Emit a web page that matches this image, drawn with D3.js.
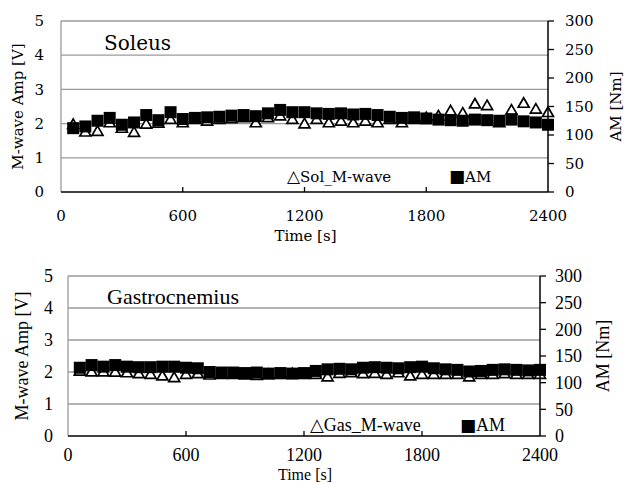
<!DOCTYPE html>
<html>
<head>
<meta charset="utf-8">
<script src="https://cdn.jsdelivr.net/npm/d3@7"></script>
<style>
  body { margin: 0; background: #fff; }
  svg { display: block; }
</style>
</head>
<body>
<div id="chart"></div>
<script>
// sample times [s], one point per minute
const times = [60,120,180,240,300,360,420,480,540,600,660,720,780,840,900,960,1020,1080,1140,1200,
  1260,1320,1380,1440,1500,1560,1620,1680,1740,1800,1860,1920,1980,2040,2100,2160,2220,2280,2340,2400];

// Soleus
const solMwave = [1.95,1.73,1.75,2.0,1.84,1.72,1.96,1.99,2.1,2.0,2.1,2.05,2.1,2.12,2.15,2.0,2.15,2.2,2.1,1.97,
  2.1,2.0,2.05,2.0,2.05,2.0,2.1,2.0,2.1,2.15,2.2,2.35,2.28,2.55,2.5,2.0,2.37,2.57,2.4,2.3];
const solAM = [112,115,125,130,118,122,135,126,140,128,130,131,132,134,135,133,138,144,140,140,
  138,137,138,136,137,135,132,130,131,129,127,126,125,127,126,125,127,124,122,118];

// Gastrocnemius
const gasMwave = [2.0,1.98,1.98,1.97,1.95,1.92,1.9,1.85,1.8,1.9,1.92,1.88,1.9,1.9,1.88,1.87,1.9,1.9,1.92,1.9,
  1.9,1.82,1.93,1.95,1.92,1.93,1.9,1.95,1.85,1.9,1.9,1.9,1.9,1.82,1.9,1.9,1.92,1.9,1.9,1.9];
const gasAM = [128,133,130,133,130,129,129,130,130,128,127,120,119,119,118,119,117,118,117,118,
  122,125,126,125,128,129,128,127,129,130,127,125,124,121,122,124,125,124,123,124];

const xTicks = [0,600,1200,1800,2400];
const yLeftTicks = [0,1,2,3,4,5];
const yRightTicks = [0,50,100,150,200,250,300];

const W = 627, H = 484;
const svg = d3.select("#chart").append("svg").attr("width", W).attr("height", H);

function drawPanel(p) {
  const g = svg.append("g").style("font-family", p.font).style("fill", "#000");
  const x = d3.scaleLinear().domain([0, 2400]).range([p.left, p.right]);
  const yL = d3.scaleLinear().domain([0, 5]).range([p.bottom, p.top]);
  const yR = d3.scaleLinear().domain([0, 300]).range([p.bottom, p.top]);

  // gridlines
  g.selectAll(".grid").data(yLeftTicks.slice(1)).enter().append("line")
    .attr("x1", p.left).attr("x2", p.right)
    .attr("y1", d => yL(d)).attr("y2", d => yL(d))
    .attr("stroke", "#9a9a9a").attr("stroke-width", 1.3);
  // left border
  g.append("line").attr("x1", p.left).attr("x2", p.left)
    .attr("y1", p.top).attr("y2", p.bottom)
    .attr("stroke", "#9a9a9a").attr("stroke-width", 1.3);

  // series: M-wave triangles under, AM squares on top
  const tri = d3.symbol().type(d3.symbolTriangle).size(p.triSize);
  g.selectAll(".tri").data(p.mwave).enter().append("path")
    .attr("d", tri)
    .attr("transform", (d, i) => `translate(${x(times[i])},${yL(d)})`)
    .attr("fill", "#fff").attr("stroke", "#000").attr("stroke-width", 1.7);

  const s = p.sq;
  g.selectAll(".sq").data(p.am).enter().append("rect")
    .attr("x", (d, i) => x(times[i]) - s / 2)
    .attr("y", d => yR(d) - s / 2)
    .attr("width", s).attr("height", s)
    .attr("fill", "#000");

  // bottom axis
  g.append("line").attr("x1", p.left).attr("x2", p.right)
    .attr("y1", p.bottom).attr("y2", p.bottom)
    .attr("stroke", "#000").attr("stroke-width", 1.5);
  g.selectAll(".xt").data(xTicks.slice(1, -1)).enter().append("line")
    .attr("x1", d => x(d)).attr("x2", d => x(d))
    .attr("y1", p.bottom).attr("y2", p.bottom - 5)
    .attr("stroke", "#000").attr("stroke-width", 1.3);
  g.selectAll(".xl").data(xTicks).enter().append("text")
    .attr("x", d => x(d)).attr("y", p.xLabelY)
    .attr("text-anchor", "middle").style("font-size", p.fs + "px")
    .text(d => d);

  // right axis
  g.append("line").attr("x1", p.right).attr("x2", p.right)
    .attr("y1", p.top).attr("y2", p.bottom)
    .attr("stroke", "#000").attr("stroke-width", 1.5);
  g.selectAll(".rt").data(yRightTicks).enter().append("line")
    .attr("x1", p.right).attr("x2", p.right + 6)
    .attr("y1", d => yR(d)).attr("y2", d => yR(d))
    .attr("stroke", "#000").attr("stroke-width", 1.3);
  g.selectAll(".rl").data(yRightTicks).enter().append("text")
    .attr("x", p.right + p.rGap).attr("y", d => yR(d))
    .attr("dy", "0.35em").style("font-size", p.fs + "px")
    .text(d => d);

  // left labels
  g.selectAll(".ll").data(yLeftTicks).enter().append("text")
    .attr("x", p.left - p.lGap).attr("y", d => yL(d))
    .attr("dy", "0.35em").attr("text-anchor", "end").style("font-size", p.fs + "px")
    .text(d => d);

  // axis titles
  g.append("text").attr("x", (p.left + p.right) / 2 + 1).attr("y", p.timeY)
    .attr("text-anchor", "middle").style("font-size", p.timeFs + "px").text("Time [s]");
  g.append("text")
    .attr("transform", `translate(${p.lTitleX},${(p.top + p.bottom) / 2}) rotate(-90)`)
    .attr("dy", "0.35em").attr("text-anchor", "middle").style("font-size", p.fs + "px")
    .text("M-wave Amp [V]");
  g.append("text")
    .attr("transform", `translate(${p.rTitleX},${(p.top + p.bottom) / 2}) rotate(-90)`)
    .attr("dy", "0.35em").attr("text-anchor", "middle").style("font-size", p.fs + "px")
    .text("AM [Nm]");

  // muscle name
  g.append("text").attr("x", p.nameX).attr("y", p.nameY)
    .style("font-size", p.nameFs + "px").text(p.name);

  // legend (full-width marks as in the original)
  const l1 = g.append("text").attr("x", p.legX1).attr("y", p.legY).attr("dy", "0.35em")
    .style("font-size", p.fs + "px");
  l1.append("tspan").style("font-family", "'DejaVu Sans', sans-serif")
    .style("font-size", p.triFs + "px").text("\u25B3");
  l1.append("tspan").text(p.legName);
  const l2 = g.append("text").attr("x", p.legX2).attr("y", p.legY).attr("dy", "0.35em")
    .style("font-size", p.fs + "px");
  l2.append("tspan").style("font-family", "'DejaVu Sans', sans-serif")
    .style("font-size", p.boxFs + "px").text("\u25A0");
  l2.append("tspan").text("AM");
}

drawPanel({
  font: "'DejaVu Serif', serif", fs: 15, nameFs: 20, timeFs: 15, triFs: 17, boxFs: 17,
  left: 61, right: 548, top: 21, bottom: 192,
  mwave: solMwave, am: solAM, triSize: 52, sq: 12,
  xLabelY: 221, timeY: 241, lGap: 17, rGap: 17,
  lTitleX: 18, rTitleX: 616,
  name: "Soleus", nameX: 104, nameY: 50,
  legName: "Sol_M-wave", legX1: 287, legX2: 449, legY: 177
});

drawPanel({
  font: "'Liberation Serif', 'Times New Roman', serif", fs: 18, nameFs: 22, timeFs: 16, triFs: 18, boxFs: 17,
  left: 68, right: 540, top: 276, bottom: 436,
  mwave: gasMwave, am: gasAM, triSize: 52, sq: 12,
  xLabelY: 461, timeY: 480, lGap: 15, rGap: 15,
  lTitleX: 22, rTitleX: 603,
  name: "Gastrocnemius", nameX: 107, nameY: 304,
  legName: "Gas_M-wave", legX1: 310, legX2: 460, legY: 425
});
</script>
</body>
</html>
